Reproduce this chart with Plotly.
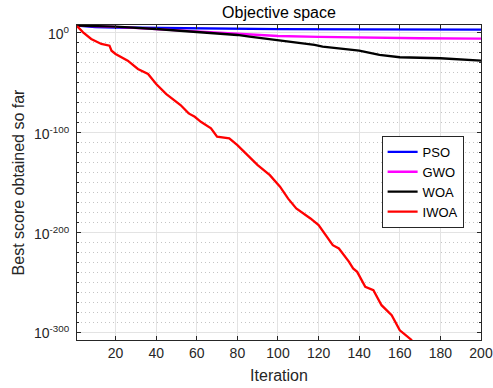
import plotly.graph_objects as go

# Convergence curves: best score so far (log10 of the score) per iteration
pso_iter = [1, 5, 10, 20, 40, 60, 80, 100, 140, 200]
pso_log10 = [7.3, 6.6, 6.0, 5.5, 4.9, 4.4, 4.0, 3.8, 3.6, 3.4]

gwo_iter = [1, 10, 20, 40, 60, 80, 100, 120, 140, 170, 200]
gwo_log10 = [7.3, 6.8, 6.1, 3.9, 1.5, -1.0, -3.0, -4.0, -4.7, -5.3, -5.7]

woa_iter = [1, 20, 40, 60, 80, 86, 100, 118, 122, 140, 150, 160, 180, 200]
woa_log10 = [7.5, 6.3, 4.0, 1.3, -2.0, -3.7, -7.0, -12.0, -13.7, -17.7,
             -22.0, -24.3, -25.3, -27.7]

iwoa_iter = [1, 4, 8, 13, 17, 18, 20, 26, 31, 36, 40, 45, 52, 56, 59, 62,
             67, 70, 76, 80, 85, 90, 96, 101, 105, 109, 116, 120, 127, 130,
             135, 137, 139, 143, 147, 151, 156, 160, 162, 166]
iwoa_log10 = [7.0, 0.7, -6.0, -11.0, -12.7, -17.8, -21.0, -27.8, -36.1, -41.1,
              -51.2, -61.2, -72.2, -80.6, -84.0, -89.0, -95.6, -104.0, -105.7,
              -112.4, -122.4, -132.4, -142.5, -154.0, -166.0, -175.9, -185.9,
              -192.6, -212.7, -216.0, -229.4, -236.0, -239.4, -254.5, -257.8,
              -272.8, -282.9, -298.0, -301.3, -308.0]

x_ticks = [20, 40, 60, 80, 100, 120, 140, 160, 180, 200]
y_tick_exp = [0, -100, -200, -300]
y_minor_exp = [e for e in range(0, -310, -10) if e % 100 != 0]

series = [
    ("PSO", pso_iter, pso_log10, "#0000ff"),
    ("GWO", gwo_iter, gwo_log10, "#ff00ff"),
    ("WOA", woa_iter, woa_log10, "#000000"),
    ("IWOA", iwoa_iter, iwoa_log10, "#ff0000"),
]

fig = go.Figure()
for name, xs, exps, color in series:
    fig.add_trace(go.Scatter(x=xs, y=[10.0 ** e for e in exps], mode="lines",
                             name=name, line=dict(color=color, width=2.3)))

axis_col = "#262626"
font_fam = "Liberation Sans, Arial, sans-serif"

# Power-of-ten labels for the log axis, right-aligned against the axis line
y_labels = [
    dict(text="10<sup>%d</sup>" % e, x=0, xref="paper", xanchor="right",
         xshift=-5, y=e, yref="y", yanchor="middle", yshift=0,
         showarrow=False, font=dict(size=14, color=axis_col))
    for e in y_tick_exp
]

fig.update_layout(
    width=493, height=388, autosize=False,
    margin=dict(l=77, r=12, t=25, b=48, autoexpand=False),
    paper_bgcolor="white", plot_bgcolor="white",
    font=dict(family=font_fam, size=14, color=axis_col),
    title=dict(text="Objective space", x=0.5, xref="paper", xanchor="center",
               y=0.968, yref="container", yanchor="middle",
               font=dict(size=16, color="black")),
    annotations=y_labels,
    showlegend=True,
    legend=dict(x=0.754, y=0.648, xanchor="left", yanchor="top",
                bgcolor="white", bordercolor=axis_col, borderwidth=1,
                font=dict(size=13, color="black"),
                tracegroupgap=0, itemwidth=30),
)

fig.update_xaxes(
    range=[1, 200], tickmode="array", tickvals=x_ticks, automargin=False,
    ticks="inside", ticklen=4, tickcolor=axis_col,
    showline=True, linecolor=axis_col, linewidth=1, mirror="ticks",
    showgrid=True, gridcolor="#e3e3e3", gridwidth=1, zeroline=False,
    tickfont=dict(size=14, color=axis_col),
    title=dict(text="Iteration", font=dict(size=16, color=axis_col), standoff=10),
)

fig.update_yaxes(
    type="log", range=[-307.7, 8], automargin=False,
    tickmode="array", tickvals=[10.0 ** e for e in y_tick_exp],
    showticklabels=False,
    ticks="inside", ticklen=4, tickcolor=axis_col,
    showline=True, linecolor=axis_col, linewidth=1, mirror="ticks",
    showgrid=True, gridcolor="#e3e3e3", gridwidth=1, zeroline=False,
    minor=dict(tickmode="array", tickvals=[10.0 ** e for e in y_minor_exp],
               ticks="inside", ticklen=2, tickcolor=axis_col,
               showgrid=True, gridcolor="#c4c4c4", griddash="1px,3px",
               gridwidth=1),
    title=dict(text="Best score obtained so far",
               font=dict(size=16, color=axis_col), standoff=47),
)

fig.write_html("out.html", config={"responsive": False})
